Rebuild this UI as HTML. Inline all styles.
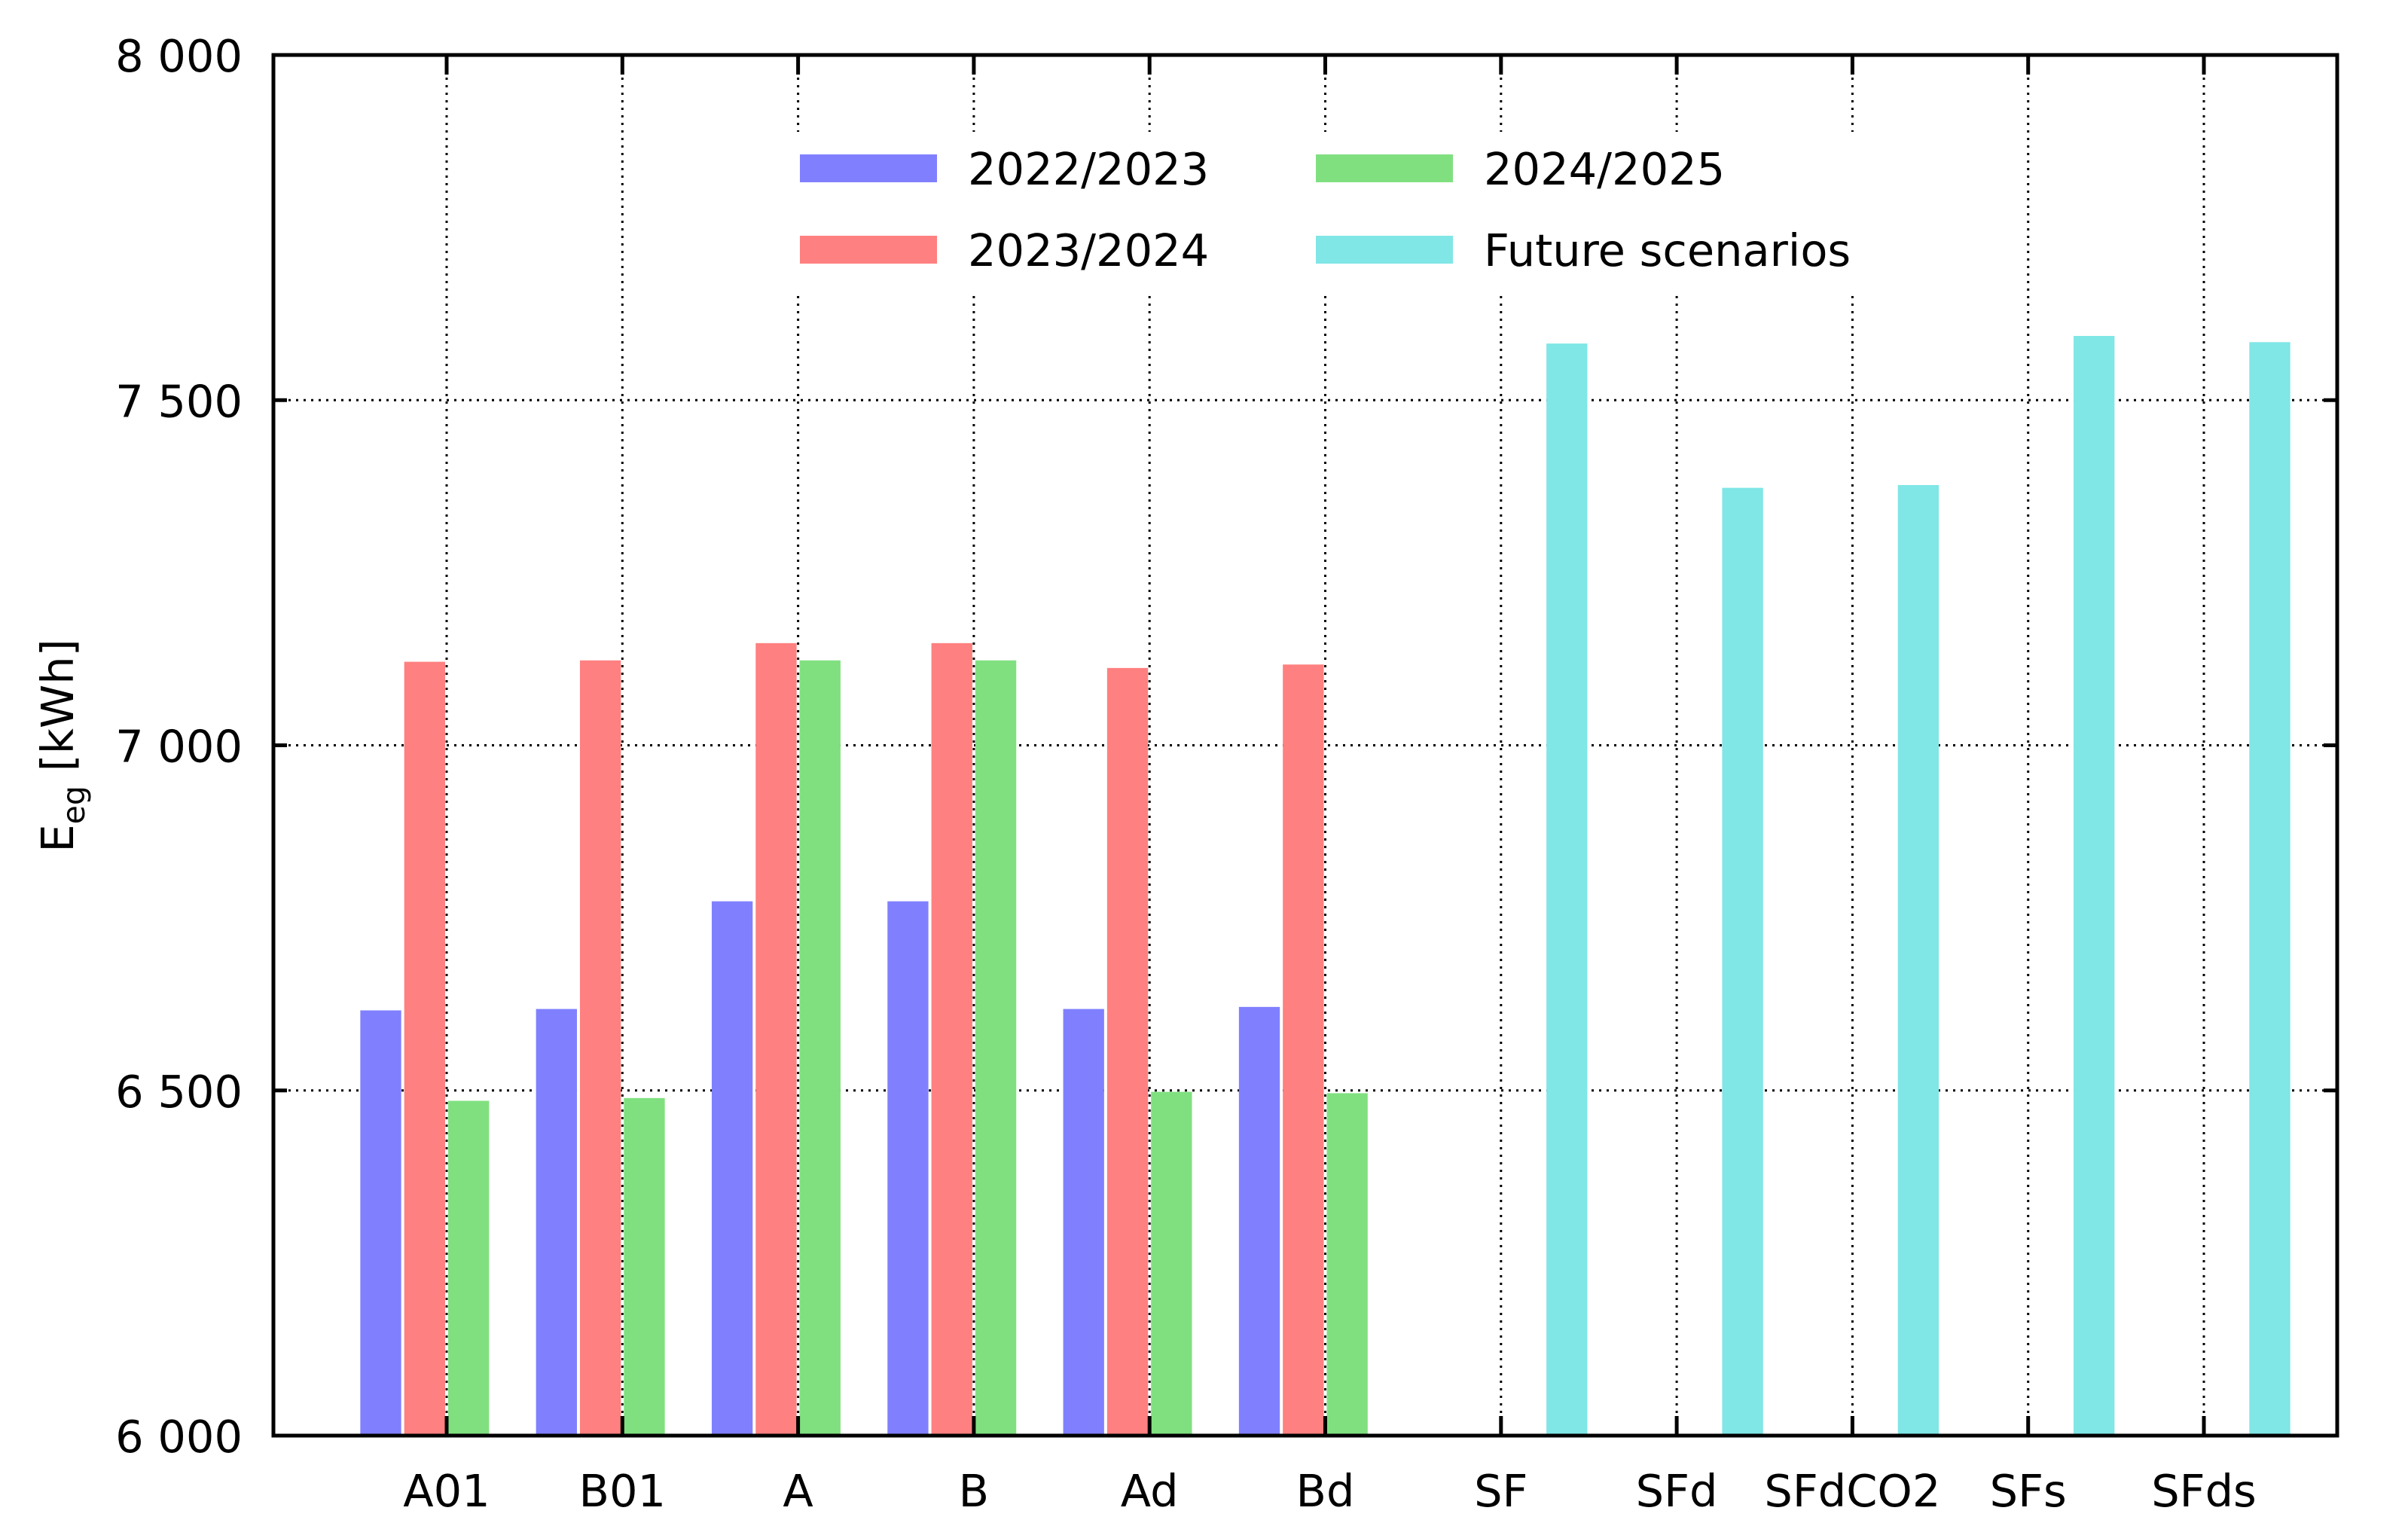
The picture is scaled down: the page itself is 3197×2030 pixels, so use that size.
<!DOCTYPE html>
<html><head><meta charset="utf-8"><style>
html,body{margin:0;padding:0;background:#fff;}
svg{display:block;font-family:"DejaVu Sans","Liberation Sans",sans-serif;}
</style></head><body>
<svg id="chart" width="3197" height="2030" viewBox="0 0 3197 2030"></svg>
<script>
const categories = ["A01","B01","A","B","Ad","Bd","SF","SFd","SFdCO2","SFs","SFds"];
const series2223 = [6616,6618,6774,6774,6618,6621,null,null,null,null,null];
const series2324 = [7121,7123,7148,7148,7112,7117,null,null,null,null,null];
const series2425 = [6485,6489,7123,7123,6498,6496,null,null,null,null,null];
const seriesFuture = [null,null,null,null,null,null,7582,7373,7377,7593,7584];
const yTicks = [6000,6500,7000,7500,8000];
const yTickLabels = ["6 000","6 500","7 000","7 500","8 000"];
const seriesNames = ["2022/2023","2023/2024","2024/2025","Future scenarios"];

const NS="http://www.w3.org/2000/svg";
const svg=document.getElementById('chart');
const L=363,R=3103,T=73,B=1906;
const X0=593,DX=233.3;
const yMin=6000,yMax=8000;
const FS=59;
function xScale(i){return X0+i*DX;}
function yScale(v){return B-(v-yMin)/(yMax-yMin)*(B-T);}
function mk(tag,attrs,parent){const e=document.createElementNS(NS,tag);for(const k in attrs)e.setAttribute(k,attrs[k]);(parent||svg).appendChild(e);return e;}

const grid=mk('g',{});


yTicks.forEach(v=>{ if(v>yMin&&v<yMax){ mk('line',{x1:L,x2:R,y1:yScale(v),y2:yScale(v),stroke:'#000','stroke-width':3,'stroke-dasharray':'3 7'},grid);} });
categories.forEach((c,i)=>{ mk('line',{x1:xScale(i),x2:xScale(i),y1:T,y2:B,stroke:'#000','stroke-width':3,'stroke-dasharray':'3 7'},grid);});

const slot=DX*0.25;
const colors=["#8080ff","#ff8080","#80e080","#80e6e6"];
const allSeries=[series2223,series2324,series2425,seriesFuture];
const offsets=[-1.5,-0.5,0.5,1.5];
allSeries.forEach((s,si)=>{
  s.forEach((v,i)=>{
    if(v==null)return;
    const cx=xScale(i)+offsets[si]*slot;
    const r=mk('rect',{x:cx-slot/2+2,y:yScale(v),width:slot-4,height:B-yScale(v),fill:colors[si]});
    
    
  });
});

const lg=mk('g',{});


mk('rect',{x:1040,y:175,width:1452,height:212,fill:'#fff'},lg);
const legPos=[[1062,224],[1062,332],[1747,224],[1747,332]];
seriesNames.forEach((n,i)=>{
  const [x,y]=legPos[i];
  const e=mk('g',{},lg);
  
  
  mk('rect',{x:x,y:y-19,width:182,height:37,fill:colors[i]},e);
  const t=mk('text',{x:x+223,y:y+21,'font-size':FS},e);
  t.textContent=n;
});

const ax=mk('rect',{x:L,y:T,width:R-L,height:B-T,fill:'none',stroke:'#000','stroke-width':5});



yTicks.forEach((v,i)=>{
  const y=yScale(v);
  mk('line',{x1:L,x2:L+18,y1:y,y2:y,stroke:'#000','stroke-width':5});
  mk('line',{x1:R,x2:R-18,y1:y,y2:y,stroke:'#000','stroke-width':5});
  const t=mk('text',{x:322,y:y+22,'font-size':FS,'text-anchor':'end'});
  
  
  t.textContent=yTickLabels[i];
});
categories.forEach((c,i)=>{
  const x=xScale(i);
  mk('line',{x1:x,x2:x,y1:B,y2:B-26,stroke:'#000','stroke-width':5});
  mk('line',{x1:x,x2:x,y1:T,y2:T+26,stroke:'#000','stroke-width':5});
  const t=mk('text',{x:x,y:2000,'font-size':FS,'text-anchor':'middle'});
  
  
  t.textContent=c;
});

const yt=mk('text',{x:0,y:0,'font-size':FS,'text-anchor':'middle',transform:'translate(97,990) rotate(-90)'});


yt.innerHTML='E<tspan font-size="41" dy="15">eg</tspan><tspan dy="-15"> [kWh]</tspan>';
</script>
</body></html>
